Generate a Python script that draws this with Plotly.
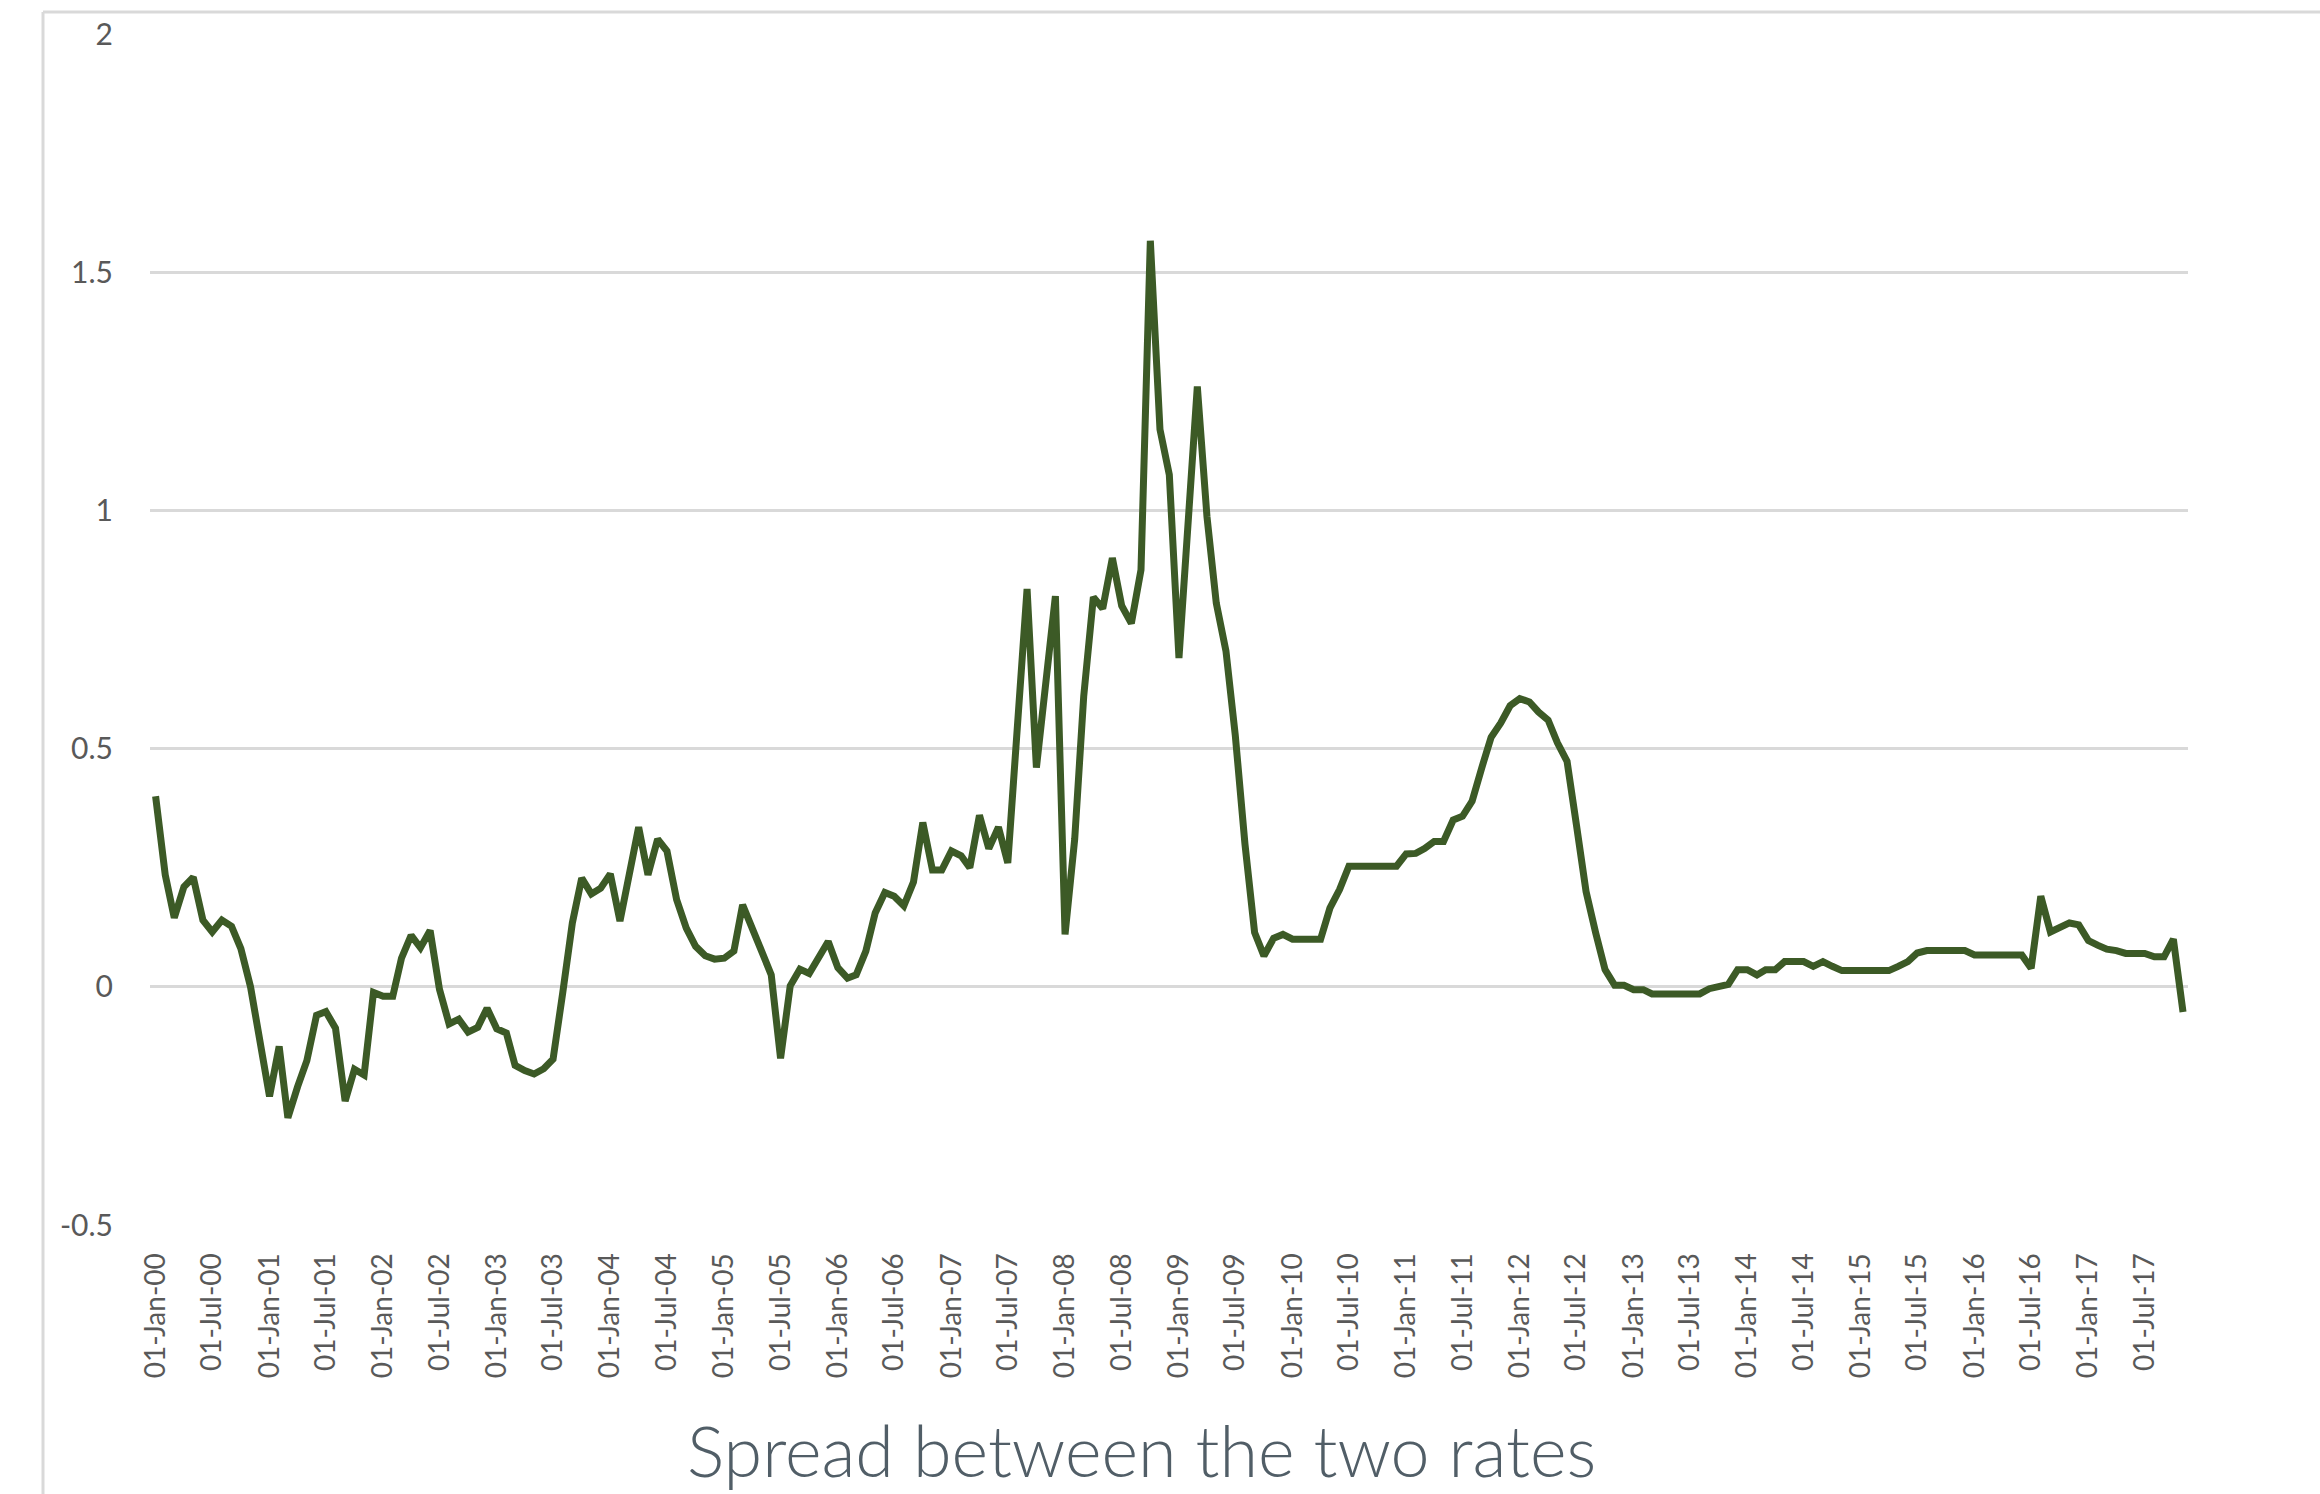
import pandas as pd
import plotly.graph_objects as go

# Monthly spread between the two rates, Jan 2000 - Nov 2017 (percentage points)
spread_2000 = [0.40, 0.235, 0.145, 0.21, 0.23, 0.14, 0.115, 0.14, 0.127, 0.08, 0.0, -0.115]
spread_2001 = [-0.23, -0.125, -0.275, -0.21, -0.155, -0.06, -0.052, -0.087, -0.24, -0.173, -0.185, -0.012]
spread_2002 = [-0.02, -0.02, 0.06, 0.108, 0.082, 0.118, -0.005, -0.078, -0.068, -0.095, -0.085, -0.045]
spread_2003 = [-0.088, -0.097, -0.165, -0.176, -0.183, -0.172, -0.152, -0.013, 0.134, 0.228, 0.195, 0.207]
spread_2004 = [0.237, 0.138, 0.24, 0.335, 0.235, 0.31, 0.285, 0.183, 0.123, 0.085, 0.065, 0.058]
spread_2005 = [0.06, 0.075, 0.172, 0.127, 0.075, 0.025, -0.15, 0.002, 0.037, 0.028, 0.06, 0.095]
spread_2006 = [0.04, 0.018, 0.025, 0.075, 0.155, 0.198, 0.19, 0.17, 0.22, 0.345, 0.245, 0.245]
spread_2007 = [0.285, 0.275, 0.25, 0.36, 0.29, 0.335, 0.26, 0.56, 0.835, 0.46, 0.64, 0.82]
spread_2008 = [0.11, 0.31, 0.61, 0.818, 0.794, 0.9, 0.8, 0.763, 0.875, 1.566, 1.17, 1.075]
spread_2009 = [0.69, 1.005, 1.26, 0.987, 0.805, 0.705, 0.528, 0.3, 0.114, 0.065, 0.102, 0.11]
spread_2010 = [0.1, 0.1, 0.1, 0.1, 0.165, 0.204, 0.253, 0.253, 0.253, 0.253, 0.253, 0.253]
spread_2011 = [0.279, 0.28, 0.29, 0.305, 0.305, 0.35, 0.358, 0.39, 0.46, 0.524, 0.554, 0.59]
spread_2012 = [0.605, 0.598, 0.577, 0.56, 0.512, 0.473, 0.34, 0.2, 0.113, 0.036, 0.003, 0.003]
spread_2013 = [-0.006, -0.006, -0.015, -0.015, -0.015, -0.015, -0.015, -0.015, -0.004, 0.0, 0.005, 0.036]
spread_2014 = [0.036, 0.025, 0.036, 0.036, 0.053, 0.053, 0.053, 0.043, 0.053, 0.043, 0.034, 0.034]
spread_2015 = [0.034, 0.034, 0.034, 0.034, 0.043, 0.053, 0.071, 0.076, 0.076, 0.076, 0.076, 0.076]
spread_2016 = [0.067, 0.067, 0.067, 0.067, 0.067, 0.067, 0.039, 0.19, 0.115, 0.125, 0.134, 0.13]
spread_2017 = [0.097, 0.087, 0.079, 0.076, 0.07, 0.07, 0.07, 0.063, 0.063, 0.1, -0.053]

spread = (spread_2000 + spread_2001 + spread_2002 + spread_2003 + spread_2004 + spread_2005
          + spread_2006 + spread_2007 + spread_2008 + spread_2009 + spread_2010 + spread_2011
          + spread_2012 + spread_2013 + spread_2014 + spread_2015 + spread_2016 + spread_2017)
dates = pd.date_range("2000-01-01", periods=len(spread), freq="MS")

y_ticks = [-0.5, 0, 0.5, 1, 1.5, 2]
y_tick_labels = ["-0.5", "0", "0.5", "1", "1.5", "2"]
chart_title = "Spread between the two rates"

W, H = 2320, 1494
L, R, T, B = 150, 132, 34, 269
plot_w = W - L - R
plot_h = H - T - B


def px_x(px):
    return (px - L) / plot_w


def px_y(py):
    return (H - B - py) / plot_h


fig = go.Figure()
fig.add_trace(go.Scatter(
    x=dates, y=spread, mode="lines",
    line=dict(color="#3c5a26", width=7, shape="linear"),
    showlegend=False, hoverinfo="x+y",
))

frame_color = "#d9d9d9"
fig.add_shape(type="line", xref="paper", yref="paper",
              x0=px_x(43), x1=px_x(43), y0=px_y(12), y1=px_y(H + 5),
              line=dict(color=frame_color, width=3))
fig.add_shape(type="line", xref="paper", yref="paper",
              x0=px_x(43), x1=px_x(W + 5), y0=px_y(12), y1=px_y(12),
              line=dict(color=frame_color, width=3))

fig.add_annotation(
    text=chart_title, xref="paper", yref="paper",
    x=px_x(1141), y=px_y(1450), xanchor="center", yanchor="middle",
    showarrow=False,
    font=dict(family="Lato", size=70, color="#515e67", weight=300),
)

fig.update_layout(
    width=W, height=H, autosize=False,
    margin=dict(l=L, r=R, t=T, b=B, pad=0),
    paper_bgcolor="white", plot_bgcolor="white",
    font=dict(family="Lato", color="#595959"),
)
fig.update_xaxes(
    type="date",
    range=["1999-12-14", "2017-11-17"],
    tickmode="linear", tick0="2000-01-01", dtick="M6",
    tickformat="%d-%b-%y", tickangle=-90,
    tickfont=dict(family="Lato", size=28, color="#595959"),
    ticks="outside", ticklen=16, tickcolor="rgba(0,0,0,0)",
    showgrid=False, zeroline=False, showline=False,
)
fig.update_yaxes(
    range=[-0.5, 2.0],
    tickmode="array", tickvals=y_ticks, ticktext=y_tick_labels,
    tickfont=dict(family="Lato", size=30, color="#595959"),
    ticks="outside", ticklen=30, tickcolor="rgba(0,0,0,0)",
    showgrid=True, gridcolor="#d9d9d9", gridwidth=3,
    zeroline=False, showline=False,
)

fig.write_html("out.html")
